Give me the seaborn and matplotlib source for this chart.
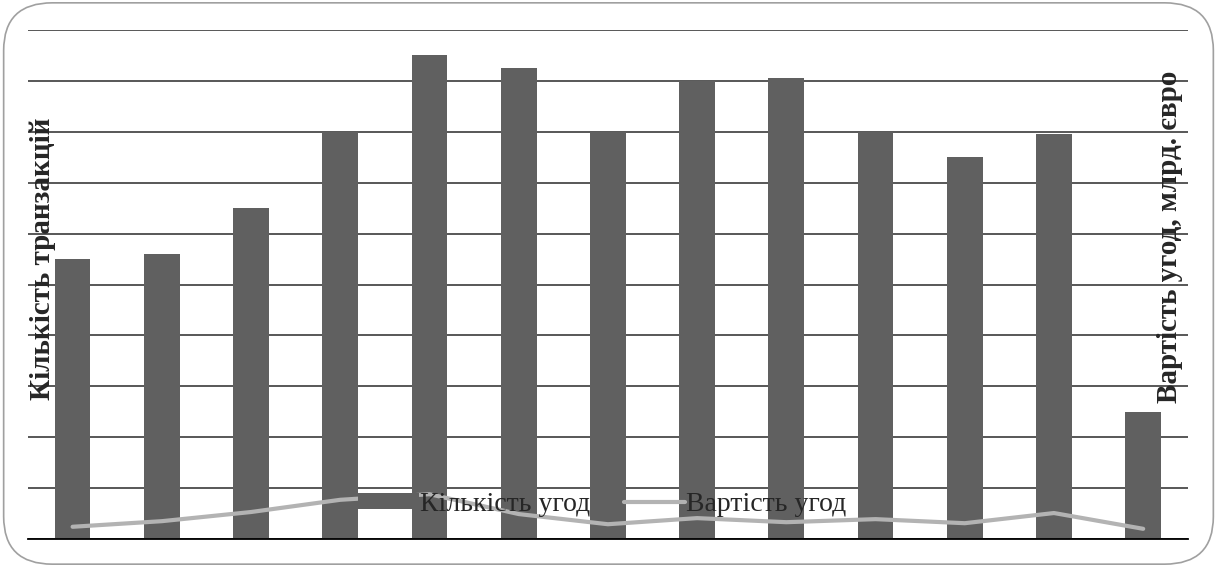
import numpy as np
import pandas as pd
import seaborn as sns
from matplotlib import pyplot as plt
from matplotlib.patches import FancyBboxPatch, Patch
from matplotlib.lines import Line2D

# values (no tick labels in the source, so units are relative)
periods = list(range(13))
deal_counts = [550, 560, 650, 800, 950, 925, 800, 900, 905, 800, 750, 795, 250]
deal_values = [12, 17.5, 26.5, 38.5, 44, 24.5, 14.5, 20.5, 16.5, 19.5, 15.5, 25.5, 10]

left_label = "Кількість транзакцій"
right_label = "Вартість угод, млрд. євро"
legend_labels = ["Кількість угод", "Вартість угод"]

bar_color = "#606060"
line_color = "#b3b3b3"


def draw_chart():
    sns.set_theme(style="white")
    plt.rcParams['font.family'] = ['Liberation Serif', 'DejaVu Serif']

    fig = plt.figure(figsize=(12.17, 5.67), dpi=100)
    ax = fig.add_axes([0.023, 0.0494, 0.953, 0.8976])

    df = pd.DataFrame({'period': periods, 'count': deal_counts, 'value': deal_values})
    sns.barplot(data=df, x='period', y='count', color=bar_color, width=0.4,
                saturation=1, linewidth=0, ax=ax, zorder=2)
    ax.set_ylim(0, 1000)
    ax.set_xlim(-0.5, 12.5)
    ax.set_yticks(np.arange(0, 1001, 100))
    ax.yaxis.grid(True, color="#4a4a4a", linewidth=1.3, zorder=0)
    ax.set_axisbelow(True)
    ax.set_xticks([])
    ax.set_xlabel("")
    ax.set_ylabel("")
    for side in ['top', 'left', 'right']:
        ax.spines[side].set_visible(False)
    ax.spines['bottom'].set_color('black')
    ax.spines['bottom'].set_linewidth(1.3)

    ax2 = ax.twinx()
    sns.lineplot(x=np.array(periods), y=deal_values, color=line_color,
                 linewidth=3, ax=ax2)
    ax2.set_ylim(0, 500)
    ax2.set_yticks([])
    ax2.set_ylabel("")
    for side in ['top', 'left', 'right', 'bottom']:
        ax2.spines[side].set_visible(False)
    # twinx turns the left ticks back on
    ax.tick_params(axis='y', left=False, right=False, labelleft=False, length=0)

    handles = [Patch(facecolor=bar_color, edgecolor='none'),
               Line2D([0], [0], color=line_color, linewidth=3)]
    ax2.legend(handles, legend_labels, loc='center', bbox_to_anchor=(0.495, 0.068),
               ncol=2, frameon=False, fontsize=20, handlelength=2.2,
               handleheight=0.5, handletextpad=0.05, columnspacing=1.2)

    fig.text(0.035, 0.543, left_label, rotation=90, ha='center', va='center',
             fontsize=21, fontweight='bold')
    fig.text(0.961, 0.582, right_label, rotation=90, ha='center', va='center',
             fontsize=21, fontweight='bold')

    border = FancyBboxPatch((0.003, 0.005), 0.994, 0.99, transform=fig.transFigure,
                            boxstyle="round,pad=0,rounding_size=0.04",
                            facecolor='none', edgecolor='#a0a0a0', linewidth=1.2,
                            mutation_aspect=2.1)
    fig.patches.append(border)

    fig.savefig('out.png', dpi=100)


if __name__ == '__main__':
    draw_chart()
